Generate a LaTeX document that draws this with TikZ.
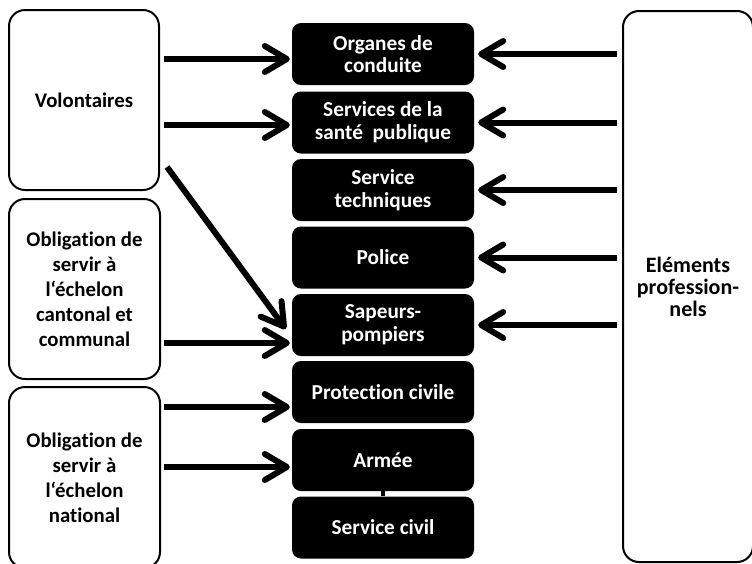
\documentclass[tikz,border=0pt]{standalone}
\usepackage{fontspec}
\setmainfont{Carlito}[Ligatures=NoCommon]
\usetikzlibrary{arrows.meta,calc}
\begin{document}
\begin{tikzpicture}[x=1pt,y=-1pt,
  lbox/.style={draw, line width=2pt, rounded corners=16pt, align=center, inner sep=0pt,
    font=\fontsize{20.8}{25}\selectfont\bfseries},
  rbox/.style={draw, line width=2pt, rounded corners=16pt, align=center, inner sep=0pt,
    font=\fontsize{22}{22}\selectfont\bfseries},
  cbox/.style={fill=black, text=white, rounded corners=9pt, align=center, inner sep=0pt,
    minimum width=182pt, minimum height=62pt,
    font=\fontsize{21.3}{22.7}\selectfont\bfseries},
  arr/.style={line width=6pt, -{Straight Barb[length=22pt,width=26pt,line cap=round,line join=round]}}
]
\useasboundingbox (0,0) rectangle (752,563);
\clip (0,0) rectangle (752,563);

% left boxes
\node[lbox, minimum width=150pt, minimum height=180pt] (vol) at (84,100) {Volontaires};
\node[lbox, minimum width=151pt, minimum height=180pt] (can) at (84.5,289)
  {Obligation de\\servir à\\l‘échelon\\cantonal et\\communal};
\node[lbox, minimum width=151pt, minimum height=181pt] (nat) at (84.5,477.5)
  {Obligation de\\servir à\\l‘échelon\\national};

% right box
\node[rbox, minimum width=130pt, minimum height=551pt] (prof) at (688,286.5)
  {Eléments\\profession-\\nels};

% centre boxes
\node[cbox] (org) at (383,54)    {Organes de\\conduite};
\node[cbox] (san) at (383,122.5) {Services de la\\santé\ \ publique};
\node[cbox] (tec) at (383,190)   {Service\\techniques};
\node[cbox] (pol) at (383,257.5) {Police};
\node[cbox] (sap) at (383,325)   {Sapeurs-\\pompiers};
\node[cbox] (pro) at (383,392)   {Protection civile};
\node[cbox] (arm) at (383,460)   {Armée};
\node[cbox] (civ) at (383,527.5) {Service civil};

\draw[line width=3.5pt] (arm.south) -- (civ.north);

% left arrows
\draw[arr] ($(vol.east)+(4,-41)$) -- ($(org.west)+(-2,5)$);
\draw[arr] ($(vol.east)+(4,25)$) -- ($(san.west)+(-2,2.5)$);
\draw[arr] ($(vol.east)+(7,67)$) -- ($(sap.west)+(-6,4)$);
\draw[arr] ($(can.east)+(3,54)$) -- ($(sap.west)+(-2,18)$);
\draw[arr] ($(nat.east)+(3,-70.5)$) -- ($(pro.west)+(-2,15)$);
\draw[arr] ($(nat.east)+(3,-10.5)$) -- ($(arm.west)+(-2,7)$);

% right arrows
\foreach \t in {org,san,tec,pol,sap}
  \draw[arr] ($(prof.west |- \t.east)+(-5,0)$) -- ($(\t.east)+(4,0)$);
\end{tikzpicture}
\end{document}
